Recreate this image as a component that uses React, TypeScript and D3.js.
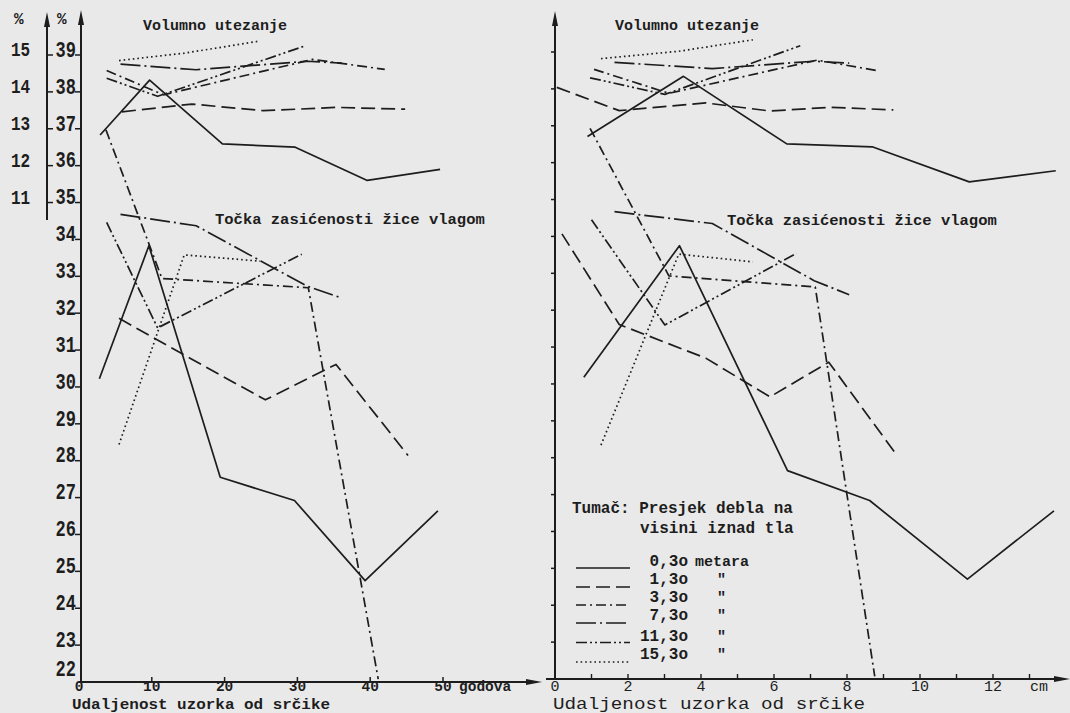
import * as d3 from "d3";

// heights of the stem section (legend) and their line styles
const heights = ["0,3o", "1,3o", "3,3o", "7,3o", "11,3o", "15,3o"];
const dashes = ["", "14,6", "10,4,2,4", "20,4,2,4", "11,3,2,3,2,3", "1.6,3"];

// left panel: distance from pith in growth rings
const volRingX = [
  [2.9, 9.7, 19.7, 29.7, 39.6, 49.6],
  [5.9, 15.5, 25.3, 35.4, 44.8],
  [3.8, 11.6, 32.1, 42.0],
  [5.7, 16.1, 31.3, 36.1],
  [3.8, 10.8, 30.8],
  [5.5, 14.5, 24.9],
];
const volRingY = [
  [12.83, 14.32, 12.59, 12.5, 11.6, 11.9],
  [13.46, 13.67, 13.49, 13.58, 13.53],
  [14.58, 13.92, 14.88, 14.61],
  [14.75, 14.6, 14.83, 14.78],
  [14.37, 13.88, 15.23],
  [14.85, 15.05, 15.38],
];
const fspRingX = [
  [2.8, 9.6, 19.4, 29.6, 39.3, 49.3],
  [5.5, 15.5, 25.6, 35.3, 45.2],
  [3.7, 11.4, 31.5, 41.1],
  [5.7, 16.1, 31.25, 36.1],
  [3.8, 10.8, 30.6],
  [5.5, 14.45, 24.9],
];
const fspRingY = [
  [30.22, 33.83, 27.55, 26.92, 24.75, 26.64],
  [31.86, 30.75, 29.65, 30.61, 28.14],
  [36.97, 32.94, 32.69, 22.08],
  [34.68, 34.37, 32.74, 32.41],
  [34.46, 31.6, 33.6],
  [28.44, 33.58, 33.41],
];

// right panel: distance from pith in cm
const volCmX = [
  [0.89, 3.52, 6.35, 8.69, 11.35, 13.72],
  [0.05, 1.76, 4.13, 5.89, 7.55, 9.27],
  [1.07, 3.12, 7.18, 8.85],
  [1.63, 4.31, 7.1, 8.06],
  [0.96, 3.01, 6.72],
  [1.26, 3.39, 5.42],
];
const volCmY = [
  [12.71, 14.34, 12.51, 12.43, 11.48, 11.78],
  [14.04, 13.41, 13.62, 13.4, 13.5, 13.43],
  [14.53, 13.88, 14.78, 14.49],
  [14.72, 14.55, 14.75, 14.7],
  [14.3, 13.85, 15.17],
  [14.82, 15.02, 15.33],
];
const fspCmX = [
  [0.79, 3.41, 6.37, 8.62, 11.3, 13.67],
  [0.19, 1.76, 4.13, 5.89, 7.5, 9.32],
  [0.96, 3.12, 7.13, 8.76],
  [1.63, 4.31, 7.1, 8.06],
  [1.0, 3.01, 6.62],
  [1.26, 3.39, 5.42],
];
const fspCmY = [
  [30.18, 33.75, 27.65, 26.84, 24.71, 26.56],
  [34.07, 31.61, 30.7, 29.65, 30.59, 28.13],
  [36.93, 32.93, 32.63, 22.07],
  [34.67, 34.35, 32.8, 32.42],
  [34.45, 31.6, 33.54],
  [28.34, 33.52, 33.31],
];

const fspTicks = [22, 23, 24, 25, 26, 27, 28, 29, 30, 31, 32, 33, 34, 35, 36, 37, 38, 39];
const volTicks = [11, 12, 13, 14, 15];
const ringTicks = [0, 10, 20, 30, 40, 50];
const cmTicks = [0, 2, 4, 6, 8, 10, 12];
const cmMinorTicks = [1, 2, 3, 4, 5, 6, 7, 8, 9, 10, 11, 12, 13];

const W = 1070;
const H = 713;
const ink = "#1d1d1d";
const mono = "'Liberation Mono', 'DejaVu Sans Mono', monospace";

const xL = d3.scaleLinear().domain([0, 50]).range([79, 443]);
const yL = d3.scaleLinear().domain([22, 39]).range([682, 55]);
const yLv = d3.scaleLinear().domain([11, 15]).range([yL(35), yL(39)]);
const xR = d3.scaleLinear().domain([0, 12]).range([555, 993]);
const yR = d3.scaleLinear().domain([22, 39]).range([679, 52]);
const yRv = d3.scaleLinear().domain([11, 15]).range([yR(35), yR(39)]);

const arrowUp = (x: number, y: number) => `M${x},${y}L${x - 3},${y + 15}L${x + 3},${y + 15}Z`;
const arrowRight = (x: number, y: number) => `M${x},${y}L${x - 16},${y - 3}L${x - 16},${y + 3}Z`;

function Curves({ xs, ys, x, y }: any) {
  const line = d3.line<number[]>().x((d) => x(d[0])).y((d) => y(d[1]));
  return (
    <g fill="none" stroke={ink} strokeWidth={1.7} strokeLinejoin="round">
      {xs.map((row: number[], i: number) => (
        <path
          key={i}
          d={line(row.map((v, j) => [v, ys[i][j]])) || ""}
          strokeDasharray={dashes[i] || undefined}
        />
      ))}
    </g>
  );
}

const App = () => {
  return (
    <svg width={W} height={H} style={{ position: "absolute", left: 0, top: 0 }} fontFamily={mono}>
      <rect width={W} height={H} fill="#e9e9e9" />

      {/* ---------- left panel (growth rings) ---------- */}
      <g stroke={ink} strokeWidth={2}>
        <line x1={xL(0)} y1={yL(22)} x2={530} y2={yL(22)} />
        <line x1={81} y1={yL(22) + 1} x2={81} y2={22} />
        <line x1={47} y1={220} x2={47} y2={24} />
        {fspTicks.slice(1).map((t) => (
          <line key={t} x1={75} x2={81} y1={yL(t)} y2={yL(t)} strokeWidth={1.5} />
        ))}
        {[35, 36, 37, 38, 39].map((t) => (
          <line key={t} x1={47} x2={53} y1={yL(t)} y2={yL(t)} strokeWidth={1.5} />
        ))}
        {ringTicks.slice(1).map((t) => (
          <line key={t} x1={xL(t)} x2={xL(t)} y1={yL(22)} y2={yL(22) - 5} strokeWidth={1.5} />
        ))}
      </g>
      <path d={arrowUp(81, 10)} fill={ink} />
      <path d={arrowUp(47, 12)} fill={ink} />
      <path d={arrowRight(542, yL(22))} fill={ink} />

      <g fill={ink} fontWeight="bold" fontSize={16}>
        <text x={14} y={24}>%</text>
        <text x={57} y={24}>%</text>
        {fspTicks.map((t) => (
          <text
            key={t}
            transform={`translate(76,${yL(t) - (t === 22 ? 14 : 6)}) scale(1,1.3)`}
            textAnchor="end"
            dy="0.35em"
            fontSize={17}
          >
            {t}
          </text>
        ))}
        {volTicks.map((t) => (
          <text key={t} transform={`translate(11,${yLv(t) - 6}) scale(1,1.3)`} dy="0.35em" fontSize={16}>
            {t}
          </text>
        ))}
        {ringTicks.map((t) => (
          <text key={t} x={xL(t)} y={691} textAnchor="middle" fontSize={14.5}>
            {t}
          </text>
        ))}
        <text x={459} y={691} fontSize={14.5}>godova</text>
        <text x={72} y={709} fontSize={15} textLength={258} lengthAdjust="spacingAndGlyphs">
          Udaljenost uzorka od srčike
        </text>
        <text x={143} y={30} fontSize={15}>Volumno utezanje</text>
        <text x={215} y={224} fontSize={15.5}>Točka zasićenosti žice vlagom</text>
      </g>

      <Curves xs={volRingX} ys={volRingY} x={xL} y={yLv} />
      <Curves xs={fspRingX} ys={fspRingY} x={xL} y={yL} />

      {/* ---------- right panel (cm) ---------- */}
      <g stroke={ink} strokeWidth={2}>
        <line x1={546} y1={yR(22)} x2={1055} y2={yR(22)} />
        <line x1={555} y1={yR(22) + 1} x2={555} y2={24} />
        {fspTicks.slice(1).map((t) => (
          <line key={t} x1={551} x2={555} y1={yR(t)} y2={yR(t)} strokeWidth={1.5} />
        ))}
        {cmMinorTicks.map((t) => (
          <line key={t} x1={xR(t)} x2={xR(t)} y1={yR(22)} y2={yR(22) - 5} strokeWidth={1.4} />
        ))}
      </g>
      <path d={arrowUp(555, 11)} fill={ink} />
      <path d={arrowRight(1070, yR(22))} fill={ink} />

      <g fill={ink}>
        {cmTicks.map((t) => (
          <text key={t} x={xR(t)} y={691} textAnchor="middle" fontSize={15}>
            {t}
          </text>
        ))}
        <text x={1030} y={691} fontSize={15}>cm</text>
        <text x={553} y={709} fontSize={16.5} textLength={312} lengthAdjust="spacingAndGlyphs">
          Udaljenost uzorka od srčike
        </text>
        <g fontWeight="bold">
          <text x={615} y={30} fontSize={15}>Volumno utezanje</text>
          <text x={727} y={225} fontSize={15.5}>Točka zasićenosti žice vlagom</text>
          <text x={572} y={513} fontSize={16}>Tumač: Presjek debla na</text>
          <text x={640} y={533} fontSize={16}>visini iznad tla</text>
        </g>
      </g>

      <Curves xs={volCmX} ys={volCmY} x={xR} y={yRv} />
      <Curves xs={fspCmX} ys={fspCmY} x={xR} y={yR} />

      {/* legend */}
      <g>
        {heights.map((h, i) => {
          const ly = [568, 587, 605, 623, 642.5, 662][i];
          const ty = [566, 584, 602, 620, 641, 659][i];
          return (
            <g key={h}>
              <line
                x1={576}
                x2={630}
                y1={ly}
                y2={ly}
                stroke={ink}
                strokeWidth={1.6}
                strokeDasharray={dashes[i] || undefined}
              />
              <text x={688} y={ty} textAnchor="end" fontSize={16} fontWeight="bold" fill={ink}>
                {h}
              </text>
              <text x={i === 0 ? 695 : 717} y={ty} fontSize={15} fontWeight="bold" fill={ink}>
                {i === 0 ? "metara" : '"'}
              </text>
            </g>
          );
        })}
      </g>
    </svg>
  );
};

export default App;
